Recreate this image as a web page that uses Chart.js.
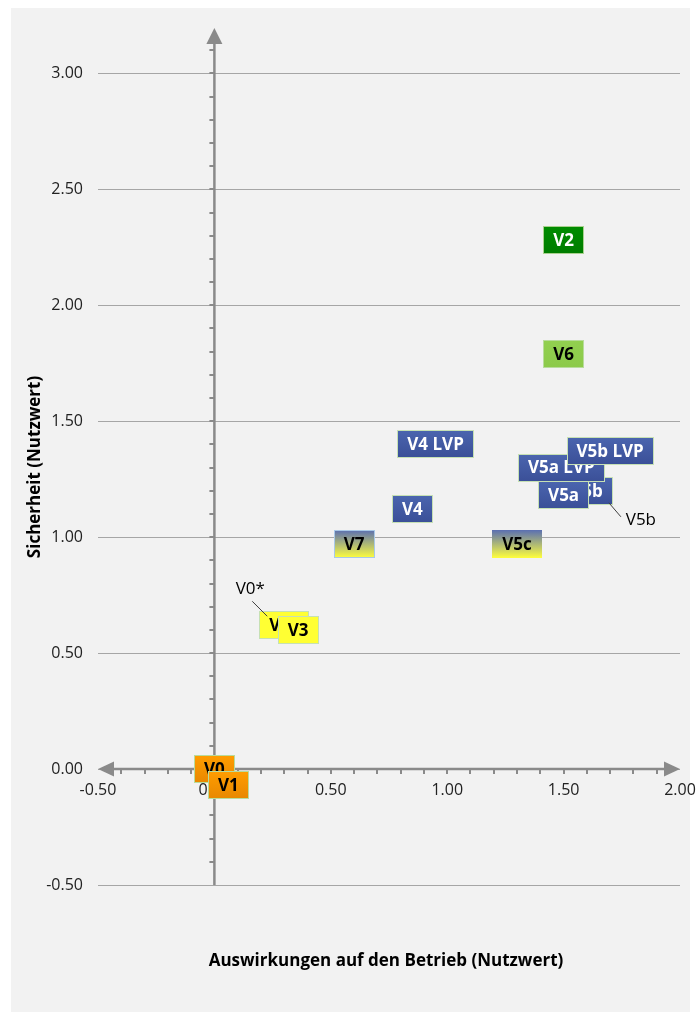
<!DOCTYPE html>
<html>
<head>
<meta charset="utf-8">
<script src="https://cdn.jsdelivr.net/npm/chart.js@4/dist/chart.umd.min.js"></script>
<style>
  html, body { margin: 0; padding: 0; background: #fff; }
  #wrap { position: relative; width: 700px; height: 1014px; }
</style>
</head>
<body>
<div id="wrap"><canvas id="matrixChart" width="700" height="1014"></canvas></div>
<script>
// ===================== DATA =====================
const labels = ["V0", "V1", "V0*", "V3", "V7", "V5c", "V4", "V4 LVP", "V5b", "V5a LVP", "V5b LVP", "V5a", "V2", "V6"];
const xValues = [0, 0.06, 0.30, 0.36, 0.60, 1.30, 0.85, 0.95, 1.60, 1.49, 1.70, 1.50, 1.50, 1.50];
const yValues = [0, -0.07, 0.62, 0.60, 0.97, 0.97, 1.12, 1.40, 1.20, 1.30, 1.37, 1.18, 2.28, 1.79];
const xTicks = [-0.5, 0, 0.5, 1, 1.5, 2];
const yTicks = [-0.5, 0, 0.5, 1, 1.5, 2, 2.5, 3];
const xTitle = "Auswirkungen auf den Betrieb (Nutzwert)";
const yTitle = "Sicherheit (Nutzwert)";

// ===================== LABEL STYLES =====================
const styles = {
  orange: { top: "#ff9d00", bottom: "#e88800", border: "#b8dc9c", text: "#000" },
  yellow: { top: "#ffff33", bottom: "#ffff33", border: "#c6e0b4", text: "#000" },
  blue: { top: "#4b65af", bottom: "#3a4f97", border: "#c6e0b4", text: "#fff" },
  mixed: { top: "#5a6fb2", bottom: "#ffff3c", border: "#a9c9e8", text: "#000" },
  mixedNoBorder: { top: "#5a6fb2", bottom: "#ffff3c", border: null, text: "#000" },
  green: { top: "#008c00", bottom: "#007d00", border: "#a9d18e", text: "#fff" },
  lightGreen: { top: "#92d050", bottom: "#8cca4a", border: "#b8dc9c", text: "#000" }
};
const labelStyle = {
  "V0": "orange", "V1": "orange", "V0*": "yellow", "V3": "yellow",
  "V7": "mixed", "V5c": "mixedNoBorder", "V4": "blue", "V4 LVP": "blue",
  "V5b": "blue", "V5a LVP": "blue", "V5b LVP": "blue", "V5a": "blue",
  "V2": "green", "V6": "lightGreen"
};
// moved labels with leader lines (pixel offsets from the point)
const callouts = {
  "V0*": { tx: -34, ty: -36, x1: -32, y1: -24, x2: -17, y2: -9 },
  "V5b": { tx: 54, ty: 29, x1: 22, y1: 12, x2: 34, y2: 26 }
};

const FONT = "'Open Sans', 'Noto Sans', sans-serif";
const AXIS_COLOR = "#8a8a8a";

// ===================== PLUGINS =====================
const cardPlugin = {
  id: "card",
  beforeDraw(chart) {
    const ctx = chart.ctx;
    ctx.save();
    ctx.fillStyle = "#f2f2f2";
    ctx.fillRect(11, 8, 679, 1004);
    ctx.restore();
  }
};

function arrowHead(ctx, tipX, tipY, dirX, dirY, len, half) {
  const bx = tipX - dirX * len, by = tipY - dirY * len;
  ctx.beginPath();
  ctx.moveTo(tipX, tipY);
  ctx.lineTo(bx - dirY * half, by + dirX * half);
  ctx.lineTo(bx + dirY * half, by - dirX * half);
  ctx.closePath();
  ctx.fill();
}

const axesPlugin = {
  id: "crossAxes",
  beforeDatasetsDraw(chart) {
    const ctx = chart.ctx;
    const xs = chart.scales.x, ys = chart.scales.y;
    const x0 = xs.getPixelForValue(0), y0 = ys.getPixelForValue(0);
    const top = ys.getPixelForValue(ys.max), bottom = ys.getPixelForValue(ys.min);
    const left = xs.getPixelForValue(xs.min), right = xs.getPixelForValue(xs.max);
    ctx.save();
    ctx.strokeStyle = AXIS_COLOR;
    ctx.fillStyle = AXIS_COLOR;
    ctx.lineWidth = 2.5;

    // vertical axis
    ctx.beginPath();
    ctx.moveTo(x0, bottom);
    ctx.lineTo(x0, top + 10);
    ctx.stroke();
    arrowHead(ctx, x0, top + 1, 0, -1, 16, 8);

    // horizontal axis
    ctx.beginPath();
    ctx.moveTo(left + 10, y0);
    ctx.lineTo(right - 10, y0);
    ctx.stroke();
    arrowHead(ctx, left, y0, -1, 0, 16, 7.5);
    arrowHead(ctx, right, y0, 1, 0, 16, 7.5);

    // minor ticks every 0.1
    ctx.lineWidth = 2;
    for (let v = -4; v <= 31; v++) {
      const py = Math.round(ys.getPixelForValue(v / 10));
      ctx.beginPath();
      ctx.moveTo(x0 - 5, py);
      ctx.lineTo(x0, py);
      ctx.stroke();
    }
    for (let v = -4; v <= 19; v++) {
      const px = Math.round(xs.getPixelForValue(v / 10));
      ctx.beginPath();
      ctx.moveTo(px, y0);
      ctx.lineTo(px, y0 + 5);
      ctx.stroke();
    }
    ctx.restore();
  }
};

const boxLabelPlugin = {
  id: "boxLabels",
  afterDatasetsDraw(chart) {
    const ctx = chart.ctx;
    const meta = chart.getDatasetMeta(0);
    ctx.save();
    ctx.font = "bold 17px " + FONT;
    ctx.textAlign = "center";
    ctx.textBaseline = "middle";

    meta.data.forEach((pt, i) => {
      const name = labels[i];
      const st = styles[labelStyle[name]];
      const w = Math.round(ctx.measureText(name).width) + 20;
      const h = 28;
      const bx = Math.round(pt.x - w / 2), by = Math.round(pt.y - h / 2);
      const grad = ctx.createLinearGradient(0, by, 0, by + h);
      grad.addColorStop(0, st.top);
      grad.addColorStop(1, st.bottom);
      ctx.fillStyle = grad;
      ctx.fillRect(bx, by, w, h);
      if (st.border) {
        ctx.strokeStyle = st.border;
        ctx.lineWidth = 1;
        ctx.strokeRect(bx + 0.5, by + 0.5, w - 1, h - 1);
      }
      ctx.fillStyle = st.text;
      ctx.fillText(name, pt.x, pt.y + 1);
    });

    // leader lines + moved labels
    ctx.font = "17px " + FONT;
    meta.data.forEach((pt, i) => {
      const c = callouts[labels[i]];
      if (!c) return;
      ctx.strokeStyle = "#404040";
      ctx.lineWidth = 1;
      ctx.beginPath();
      ctx.moveTo(pt.x + c.x1, pt.y + c.y1);
      ctx.lineTo(pt.x + c.x2, pt.y + c.y2);
      ctx.stroke();
      ctx.fillStyle = "#000";
      ctx.fillText(labels[i], pt.x + c.tx, pt.y + c.ty);
    });

    // axis titles
    ctx.font = "bold 17px " + FONT;
    ctx.fillStyle = "#000";
    ctx.fillText(xTitle, 386, 961);
    ctx.translate(35, 467);
    ctx.rotate(-Math.PI / 2);
    ctx.fillText(yTitle, 0, 0);
    ctx.restore();
  }
};

// ===================== CHART SETUP =====================
const ctxMatrix = document.getElementById("matrixChart").getContext("2d");

new Chart(ctxMatrix, {
  type: "scatter",
  data: {
    labels: labels,
    datasets: [{
      label: "Varianten",
      data: xValues.map((x, i) => ({ x: x, y: yValues[i] })),
      pointRadius: 0,
      pointHoverRadius: 0
    }]
  },
  options: {
    responsive: false,
    animation: false,
    events: [],
    layout: { padding: { left: 0, right: 20, top: 27, bottom: 129 } },
    plugins: {
      legend: { display: false },
      tooltip: { enabled: false }
    },
    scales: {
      x: {
        type: "linear",
        min: -0.5,
        max: 2,
        position: { y: 0 },
        afterBuildTicks: s => { s.ticks = xTicks.map(v => ({ value: v })); },
        afterFit: s => { s.paddingLeft = 0; s.paddingRight = 0; },
        grid: { display: false, drawTicks: false },
        border: { display: false },
        ticks: {
          padding: 12,
          color: "#222",
          font: { family: FONT, size: 16 },
          callback: v => v.toFixed(2)
        }
      },
      y: {
        type: "linear",
        min: -0.5,
        max: 3.2,
        position: "left",
        afterBuildTicks: s => { s.ticks = yTicks.map(v => ({ value: v })); },
        afterFit: s => { s.width = 98; },
        grid: { color: "#a6a6a6", lineWidth: 1, drawTicks: false },
        border: { display: false },
        ticks: {
          padding: 15,
          color: "#222",
          font: { family: FONT, size: 16 },
          callback: v => v.toFixed(2)
        }
      }
    }
  },
  plugins: [cardPlugin, axesPlugin, boxLabelPlugin]
});
</script>
</body>
</html>
